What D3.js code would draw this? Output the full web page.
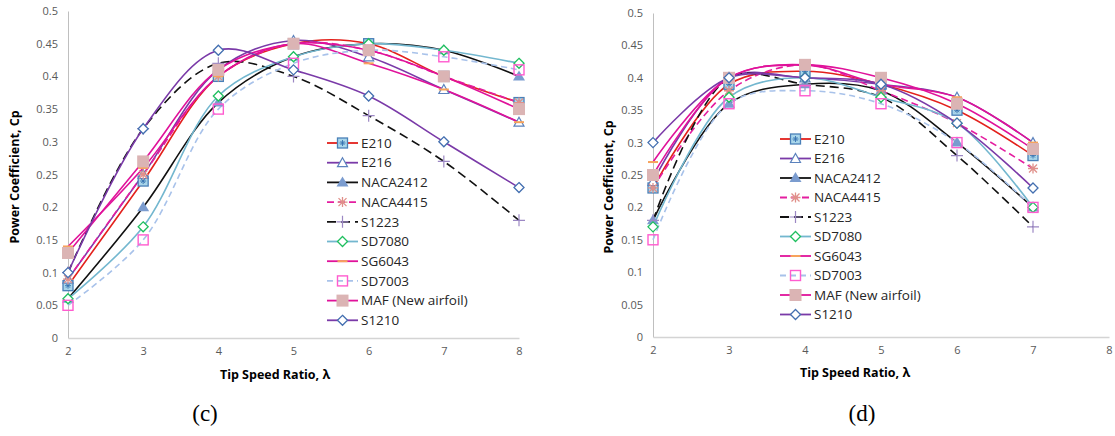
<!DOCTYPE html>
<html lang="en">
<head>
<meta charset="utf-8">
<title>Power coefficient vs tip speed ratio</title>
<script src="https://d3js.org/d3.v7.min.js"></script>
<style>
    body { margin: 0; background: #fff; }
    .tick text { font: 11px "Open Sans", sans-serif; fill: #595959; }
    .ttl { font: bold 12.5px "Open Sans", sans-serif; fill: #000; }
    .leg { font: 13.5px "Open Sans", sans-serif; fill: #262626; }
    .cap { font: 23px "Liberation Serif", serif; fill: #000; }
</style>
</head>
<body>
<svg id="chart" width="1115" height="436"></svg>
<script>
// tip speed ratios
var tsrC = [2, 3, 4, 5, 6, 7, 8];
var tsrD = [2, 3, 4, 5, 6, 7];
var yTicks = [0, 0.05, 0.1, 0.15, 0.2, 0.25, 0.3, 0.35, 0.4, 0.45, 0.5];
var names = ["E210", "E216", "NACA2412", "NACA4415", "S1223", "SD7080", "SG6043", "SD7003", "MAF (New airfoil)", "S1210"];

// panel (c)
var e210C     = [0.08, 0.24, 0.40, 0.45, 0.45, 0.40, 0.36];
var e216C     = [0.09, 0.25, 0.41, 0.455, 0.43, 0.38, 0.33];
var naca2412C = [0.06, 0.20, 0.36, 0.43, 0.45, 0.44, 0.40];
var naca4415C = [0.09, 0.25, 0.40, 0.45, 0.44, 0.40, 0.36];
var s1223C    = [0.10, 0.32, 0.42, 0.40, 0.34, 0.27, 0.18];
var sd7080C   = [0.06, 0.17, 0.37, 0.43, 0.45, 0.44, 0.42];
var sg6043C   = [0.14, 0.26, 0.40, 0.45, 0.42, 0.38, 0.33];
var sd7003C   = [0.05, 0.15, 0.35, 0.42, 0.44, 0.43, 0.41];
var mafC      = [0.13, 0.27, 0.41, 0.45, 0.44, 0.40, 0.35];
var s1210C    = [0.10, 0.32, 0.44, 0.41, 0.37, 0.30, 0.23];

// panel (d)
var e210D     = [0.23, 0.39, 0.41, 0.39, 0.35, 0.28];
var e216D     = [0.24, 0.40, 0.40, 0.39, 0.37, 0.30];
var naca2412D = [0.18, 0.36, 0.39, 0.38, 0.30, 0.20];
var naca4415D = [0.23, 0.38, 0.42, 0.38, 0.33, 0.26];
var s1223D    = [0.18, 0.40, 0.39, 0.37, 0.28, 0.17];
var sd7080D   = [0.17, 0.37, 0.40, 0.37, 0.33, 0.20];
var sg6043D   = [0.27, 0.40, 0.42, 0.39, 0.37, 0.30];
var sd7003D   = [0.15, 0.36, 0.38, 0.36, 0.30, 0.20];
var mafD      = [0.25, 0.40, 0.42, 0.40, 0.36, 0.29];
var s1210D    = [0.30, 0.40, 0.40, 0.39, 0.33, 0.23];

var styles = [
    { line: "#e3211c", dash: null, mk: "boxstar" },
    { line: "#7a3aa8", dash: null, mk: "tri" },
    { line: "#111", dash: null, mk: "trifill" },
    { line: "#e41ea0", dash: "7,4", mk: "star" },
    { line: "#111", dash: "9,5", mk: "plus" },
    { line: "#73b7cf", dash: null, mk: "diagreen" },
    { line: "#e0129a", dash: null, mk: "dash" },
    { line: "#a8c2ea", dash: "6,4", mk: "sqpink" },
    { line: "#e0129a", dash: null, mk: "sqfill" },
    { line: "#7a3aa8", dash: null, mk: "diablue" }
];

var svg = d3.select("#chart");

function marker(g, type, cx, cy) {
    var m = g.append("g").attr("transform", "translate(" + cx + "," + cy + ")");
    if (type == "boxstar") {
        m.append("rect").attr("x", -5).attr("y", -5).attr("width", 10).attr("height", 10)
            .attr("fill", "#a9d6ea").attr("stroke", "#4a80b8").attr("stroke-width", 1.3);
        m.append("path").attr("d", "M-3,0H3M0,-3V3M-2,-2L2,2M-2,2L2,-2").attr("stroke", "#3572b0").attr("stroke-width", 0.9);
    } else if (type == "tri") {
        m.append("path").attr("d", "M0,-5L5,4H-5Z").attr("fill", "#fff").attr("stroke", "#5b82bd").attr("stroke-width", 1.2);
    } else if (type == "trifill") {
        m.append("path").attr("d", "M0,-6L6,4H-6Z").attr("fill", "#7b9ccf");
    } else if (type == "star") {
        m.append("path").attr("d", "M-5,0H5M0,-5V5M-4,-4L4,4M-4,4L4,-4").attr("stroke", "#e0908a").attr("stroke-width", 1.3);
    } else if (type == "plus") {
        m.append("path").attr("d", "M-6,0H6M0,-6V6").attr("stroke", "#9c88c4").attr("stroke-width", 1.2);
    } else if (type == "diagreen") {
        m.append("path").attr("d", "M0,-5L5,0L0,5L-5,0Z").attr("fill", "#fff").attr("stroke", "#1fbf5f").attr("stroke-width", 1.3);
    } else if (type == "dash") {
        m.append("path").attr("d", "M-5,0H5").attr("stroke", "#f7a35c").attr("stroke-width", 2);
    } else if (type == "sqpink") {
        m.append("rect").attr("x", -5).attr("y", -5).attr("width", 10).attr("height", 10)
            .attr("fill", "none").attr("stroke", "#ff5ccf").attr("stroke-width", 1.4);
    } else if (type == "sqfill") {
        m.append("rect").attr("x", -6).attr("y", -6).attr("width", 12).attr("height", 12).attr("fill", "#dbb4b4");
    } else if (type == "diablue") {
        m.append("path").attr("d", "M0,-5L5,0L0,5L-5,0Z").attr("fill", "#fff").attr("stroke", "#436fb0").attr("stroke-width", 1.3);
    }
}

function drawPanel(p) {
    var x = d3.scaleLinear().domain([2, 8]).range([p.x0, p.x1]);
    var y = d3.scaleLinear().domain([0, 0.5]).range([p.y0, p.y1]);
    var g = svg.append("g");

    // axes
    var ya = g.append("g").attr("transform", "translate(" + p.x0 + ",0)")
        .call(d3.axisLeft(y).tickValues(yTicks).tickSize(0).tickPadding(10).tickFormat(function (d) { return d3.format("")(+d.toFixed(2)); }));
    ya.select(".domain").attr("stroke", "#bfbfbf");
    var xa = g.append("g").attr("transform", "translate(0," + p.y0 + ")")
        .call(d3.axisBottom(x).ticks(6).tickSize(0).tickPadding(9));
    xa.select(".domain").attr("stroke", "#d4d4d4").attr("stroke-width", 1.5);
    g.selectAll(".tick text").attr("fill", "#595959");

    g.append("text").attr("class", "ttl")
        .attr("transform", "translate(" + p.ytx + "," + p.yty + ") rotate(-90)")
        .attr("text-anchor", "middle").attr("dy", "0.35em").text("Power Coefficient, Cp");
    g.append("text").attr("class", "ttl").attr("x", p.xtx).attr("y", p.xty)
        .attr("text-anchor", "middle").text("Tip Speed Ratio, \u03bb");

    var line = d3.line().x(function (d) { return x(d[0]); }).y(function (d) { return y(d[1]); })
        .curve(d3.curveCatmullRom.alpha(0.5));

    p.series.forEach(function (vals, i) {
        var pts = p.tsr.map(function (t, j) { return [t, vals[j]]; });
        g.append("path").datum(pts).attr("d", line).attr("fill", "none")
            .attr("stroke", styles[i].line).attr("stroke-width", 1.6)
            .attr("stroke-dasharray", styles[i].dash);
    });
    p.series.forEach(function (vals, i) {
        p.tsr.forEach(function (t, j) { marker(g, styles[i].mk, x(t), y(vals[j])); });
    });

    // legend
    names.forEach(function (n, i) {
        var ly = p.ly + i * p.lstep;
        g.append("line").attr("x1", p.lx).attr("x2", p.lx + 31).attr("y1", ly).attr("y2", ly)
            .attr("stroke", styles[i].line).attr("stroke-width", 1.8).attr("stroke-dasharray", styles[i].dash);
        marker(g, styles[i].mk, p.lx + 15.5, ly);
        g.append("text").attr("class", "leg").attr("x", p.lx + 34).attr("y", ly).attr("dy", "0.35em").text(n);
    });

    g.append("text").attr("class", "cap").attr("x", p.capx).attr("y", 421)
        .attr("text-anchor", "middle").text(p.cap);
}

drawPanel({
    tsr: tsrC,
    series: [e210C, e216C, naca2412C, naca4415C, s1223C, sd7080C, sg6043C, sd7003C, mafC, s1210C],
    x0: 68, x1: 519, y0: 338, y1: 11,
    ytx: 15, yty: 177, xtx: 275, xty: 379,
    lx: 327, ly: 143, lstep: 19.7,
    capx: 205, cap: "(c)"
});
drawPanel({
    tsr: tsrD,
    series: [e210D, e216D, naca2412D, naca4415D, s1223D, sd7080D, sg6043D, sd7003D, mafD, s1210D],
    x0: 653, x1: 1109, y0: 337, y1: 13,
    ytx: 609, yty: 187, xtx: 855, xty: 377,
    lx: 780, ly: 139, lstep: 19.5,
    capx: 862, cap: "(d)"
});
</script>
</body>
</html>
